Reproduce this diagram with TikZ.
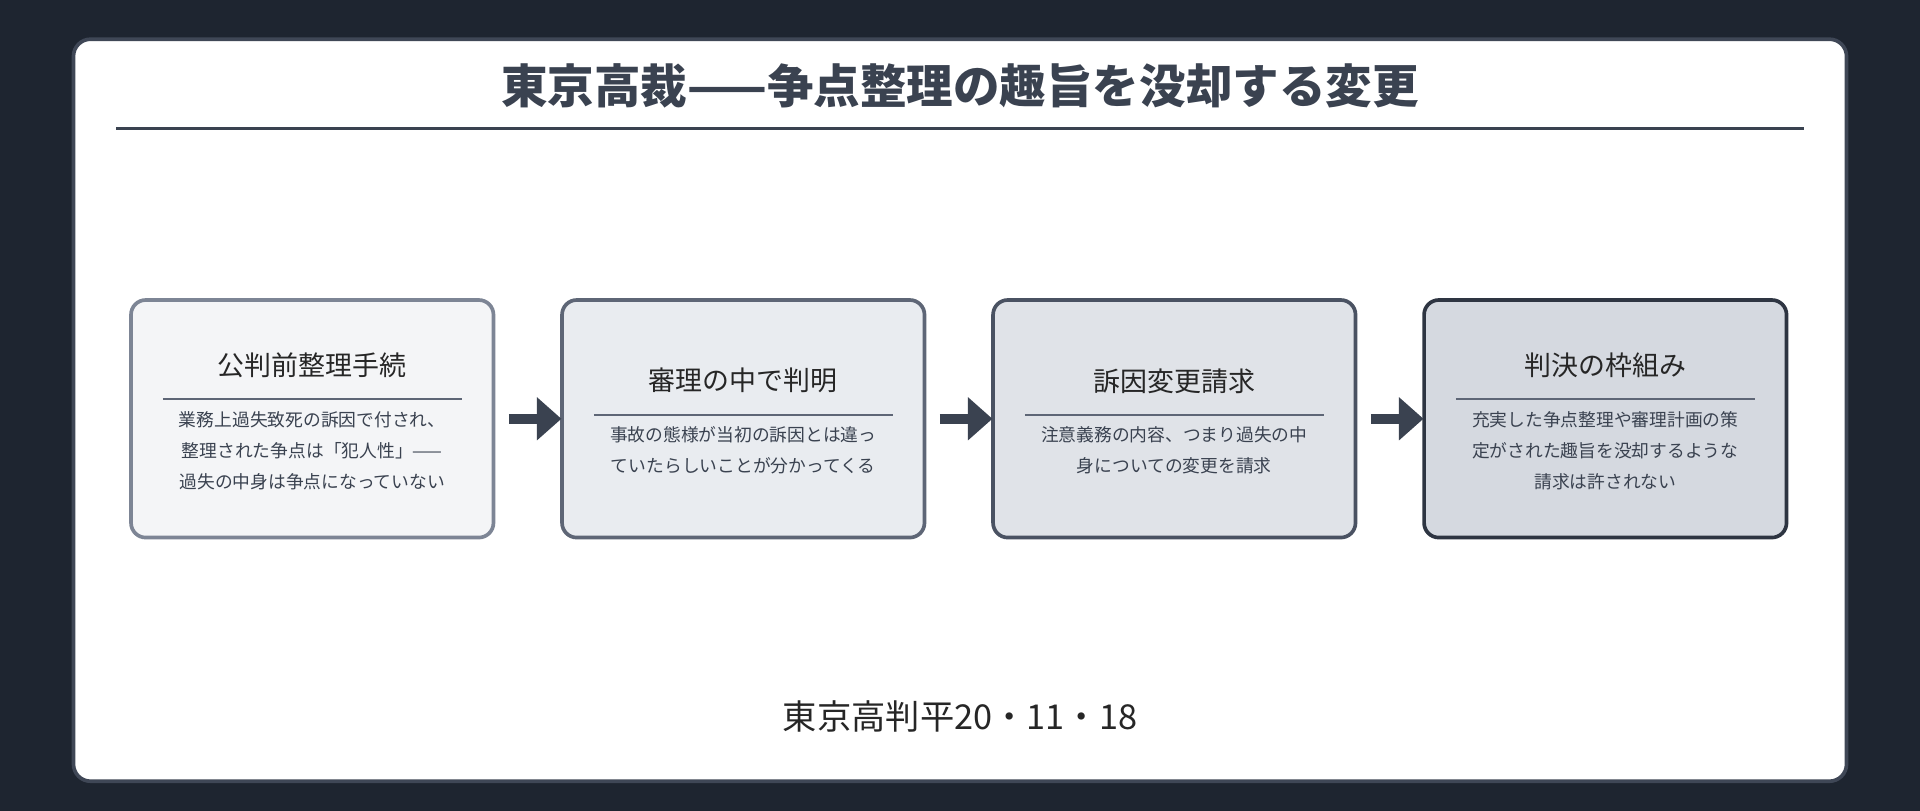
\documentclass[tikz,border=0pt]{standalone}
\usepackage{fontspec}
\setmainfont{Noto Sans CJK JP}
\usetikzlibrary{arrows.meta}
\definecolor{bgdark}{HTML}{1E2530}
\definecolor{ink}{HTML}{3A4250}
\definecolor{cardb}{HTML}{3F4756}
\definecolor{fa}{HTML}{F4F5F7}\definecolor{fb}{HTML}{E9ECF0}\definecolor{fc}{HTML}{E0E3E8}\definecolor{fd}{HTML}{D5D9E0}
\definecolor{da}{HTML}{7D8595}\definecolor{db}{HTML}{5E6676}\definecolor{dc}{HTML}{4A5262}\definecolor{dd}{HTML}{2E3542}
\begin{document}
\begin{tikzpicture}[x=1pt,y=-1pt,
 box/.style={draw, line width=3pt, rounded corners=12pt, minimum width=296pt, minimum height=194pt, inner sep=0pt},
 ttl/.style={font=\fontsize{22}{26}\selectfont, text=black!85},
 body/.style={font=\fontsize{14.5}{25.5}\selectfont, text=ink, align=center},
 arr/.style={ink, line width=8pt, -{Triangle[length=20pt,width=34pt]}, shorten <=11pt, shorten >=-1pt}]
\fill[bgdark] (0,0) rectangle (1568,662);
\useasboundingbox (0,0) rectangle (1568,662);
\node[draw=cardb, fill=white, line width=3pt, rounded corners=14pt, minimum width=1448pt, minimum height=606pt] (card) at (784,335) {};
\node[font=\fontsize{38}{44}\bfseries\selectfont, text=ink] (title) at (784,70) {東京高裁——争点整理の趣旨を没却する変更};
\draw[ink, line width=2pt] (95,105) coordinate (ul1) -- (1473,105) coordinate (ul2);
% boxes
\node[box, fill=fa, draw=da] (b1) at (255,342) {};
\node[box, fill=fb, draw=db] (b2) at (607,342) {};
\node[box, fill=fc, draw=dc] (b3) at (959,342) {};
\node[box, fill=fd, draw=dd] (b4) at (1311,342) {};
% box 1
\node[ttl] (t1) at (255,298) {公判前整理手続};
\draw[db, line width=1.5pt] (133,326) -- (377,326);
\node[body] (d1) at (255,368) {業務上過失致死の訴因で付され、\\整理された争点は「犯人性」——\\過失の中身は争点になっていない};
% box 2
\node[ttl] (t2) at (607,311) {審理の中で判明};
\draw[db, line width=1.5pt] (485,339) -- (729,339);
\node[body] (d2) at (607,368) {事故の態様が当初の訴因とは違っ\\ていたらしいことが分かってくる};
% box 3
\node[ttl] (t3) at (959,311) {訴因変更請求};
\draw[db, line width=1.5pt] (837,339) -- (1081,339);
\node[body] (d3) at (959,368) {注意義務の内容、つまり過失の中\\身についての変更を請求};
% box 4
\node[ttl] (t4) at (1311,298) {判決の枠組み};
\draw[db, line width=1.5pt] (1189,326) -- (1433,326);
\node[body] (d4) at (1311,368) {充実した争点整理や審理計画の策\\定がされた趣旨を没却するような\\請求は許されない};
% arrows
\draw[arr] (b1.east) -- (b2.west);
\draw[arr] (b2.east) -- (b3.west);
\draw[arr] (b3.east) -- (b4.west);
\node[font=\fontsize{28}{32}\selectfont, text=black!85] (foot) at (784,585) {東京高判平20・11・18};
\end{tikzpicture}
\end{document}
